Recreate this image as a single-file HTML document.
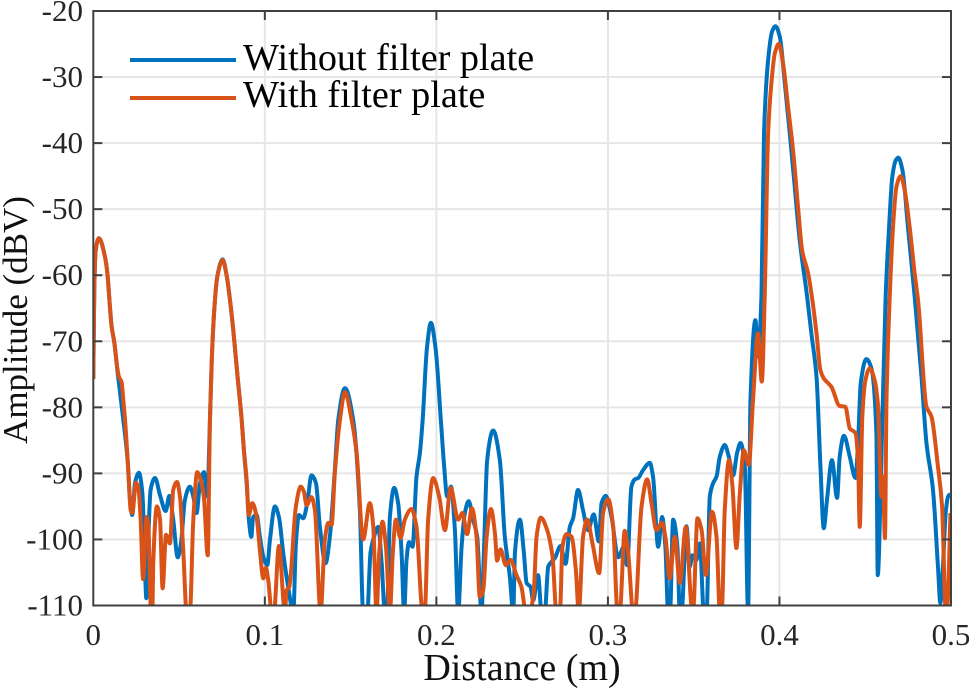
<!DOCTYPE html>
<html lang="en">
<head>
<meta charset="utf-8">
<title>Amplitude vs distance</title>
<style>
html,body{margin:0;padding:0;background:#fff;}
body{width:969px;height:689px;overflow:hidden;}
svg{display:block;font-family:"Liberation Serif","Times New Roman",serif;}
</style>
</head>
<body>
<svg id="chart" xmlns="http://www.w3.org/2000/svg" width="969" height="689" viewBox="0 0 969 689">
  <defs><clipPath id="plot-clip"><rect x="93.3" y="11" width="657.7" height="594.5" transform="translate(0 0)"></rect></clipPath></defs>
  <rect x="0" y="0" width="969" height="689" fill="#fff"></rect>
  <g id="grid"></g>
  <g id="series"></g>
  <rect x="93.3" y="11" width="857.7" height="594.5" fill="none" stroke="#404040" stroke-width="2"></rect>
  <g id="ticks"></g>
  <g id="tick-labels"></g>
  <text x="522" y="680" font-size="38" text-anchor="middle" fill="#111">Distance (m)</text>
  <text transform="translate(27 320) rotate(-90)" font-size="35" text-anchor="middle" fill="#111">Amplitude (dBV)</text>
  <g>
    <line x1="130" y1="60" x2="236" y2="60" stroke="#0072BD" stroke-width="4"></line>
    <text x="243" y="70" font-size="38.2" fill="#000">Without filter plate</text>
    <line x1="130" y1="98" x2="236" y2="98" stroke="#D95319" stroke-width="4"></line>
    <text x="243" y="107" font-size="38.2" fill="#000">With filter plate</text>
  </g>
</svg>
<script>
const xTicks = [0, 0.1, 0.2, 0.3, 0.4, 0.5];
const xTickLabels = ["0", "0.1", "0.2", "0.3", "0.4", "0.5"];
const yTicks = [-20, -30, -40, -50, -60, -70, -80, -90, -100, -110];
const yTickLabels = ["-20", "-30", "-40", "-50", "-60", "-70", "-80", "-90", "-100", "-110"];

const withoutDistance = [
0,.0006,.0014,.0033,.0068,.0082,.0097,.0107,.0122,.0142,.0175,.02,.0214,.0227,.0243,.0266,.0286,.0301,.0309,.0321,.0334,.036,.0389,.0422,.0443,.0466,.0492,.0511,.0534,.0563,.0583,.0602,.0622,.0645,.0664,.068,.069,.0705,.0723,.0754,.0777,.0797,.0816,.0839,.0865,.0878,.0894,.0907,.0921,.0932,.0952,.0971,.0991,.1014,.103,.1059,.1082,.1107,.1136,.1166,.1181,.1199,.1224,.1247,.1272,.1298,.1321,.1354,.1379,.1408,.1428,.1467,.1515,.1554,.1573,.1597,.1616,.1632,.1661,.1681,.17,.1712,.1729,.1754,.1777,.1797,.1812,.1826,.1841,.1861,.1884,.1904,.192,.1945,.1968,.1995,.2026,.2044,.2063,.2085,.2108,.2127,.2147,.2166,.2188,.2214,.2238,.2263,.2277,.2296,.2331,.237,.2399,.2428,.2448,.2458,.2487,.251,.2526,.2549,.2564,.2593,.2613,.2632,.2652,.2671,.2691,.2724,.2753,.2778,.2797,.2826,.2855,.2884,.2917,.2947,.2963,.2988,.3021,.306,.3093,.3112,.3137,.3157,.3176,.3205,.3244,.3263,.3293,.3316,.3335,.3351,.3362,.338,.3405,.3419,.3429,.3458,.3477,.3493,.3516,.3536,.3559,.3575,.3594,.3613,.3633,.3652,.3681,.3705,.373,.3753,.3773,.3798,.3817,.3831,.386,.3875,.3895,.391,.3934,.3957,.3977,.4002,.4031,.406,.4089,.4118,.4161,.4186,.4216,.4239,.4258,.4277,.4306,.4336,.4351,.4376,.441,.4443,.4458,.4474,.4507,.4536,.4565,.4573,.4594,.4619,.4639,.4658,.4678,.4693,.4717,.4749,.4788,.4828,.4857,.4895,.4924,.4938,.4953,.4969,.4983,.4997
];
const withoutDb = [
-75.7,-61.8,-56.2,-54.4,-57.2,-59.7,-64.8,-67.8,-70.1,-74.8,-81.9,-88,-94,-96.3,-91.5,-89.9,-93,-104.1,-108.9,-99.6,-92.5,-90.7,-93.3,-95.7,-93.4,-97,-102.7,-100.6,-94,-92,-93.5,-96,-91.5,-89.8,-93.5,-81.9,-73.3,-65.3,-60.2,-57.6,-60,-63.8,-68.3,-74.8,-81.9,-86.5,-91.5,-97,-99.6,-96.6,-96.3,-99.6,-102.6,-103.9,-100,-95,-96.6,-102,-107.2,-111,-100.6,-96.3,-96.8,-94.5,-90.3,-91.5,-98.1,-103.6,-99.6,-89.5,-81.9,-77.1,-81.9,-95.6,-111,-111,-102,-100,-98.1,-103.6,-111,-111,-96.6,-92.2,-94.5,-102,-111,-103.1,-100.4,-101.1,-90.5,-86.9,-81.9,-71,-67.2,-71,-81.9,-88.5,-93.5,-92,-98.6,-111,-101.1,-96,-94.2,-97,-99.6,-111,-102,-88,-83.5,-88,-99.6,-105.6,-111,-102,-97,-102,-106.6,-107.2,-109.2,-105.4,-111,-111,-104.1,-103.4,-102.8,-101,-103.7,-98.1,-96.8,-92.5,-95.6,-98.6,-96.2,-100.3,-94.5,-93.4,-96.6,-102.7,-101.1,-103.9,-92,-90.9,-90.7,-89.5,-88.4,-90.5,-101.1,-96.6,-101.1,-111,-111,-97,-101.1,-111,-111,-98,-104.1,-102.4,-103.1,-100.6,-111,-111,-93.5,-91.5,-90.5,-87.5,-85.7,-87.5,-90.3,-86.9,-85.4,-89,-111,-78.9,-66.8,-72.3,-63.2,-38.5,-27.4,-23.1,-22.3,-23.9,-30.9,-38.5,-46.6,-54.7,-63.2,-68.8,-75.4,-89,-98.3,-94,-88,-93.7,-87.5,-84.3,-87.5,-90.7,-85.4,-76.3,-72.7,-74.1,-83.9,-105.4,-88,-63.2,-52.7,-45.1,-42.6,-42.2,-44.1,-52.7,-63.2,-75.4,-85.4,-92.5,-104.1,-109.6,-104.1,-96,-93.5,-93.1
];
const withDistance = [
0,.0006,.0014,.0033,.0068,.0082,.0097,.0107,.0122,.0142,.015,.0165,.0175,.0185,.0204,.0218,.0227,.0249,.0264,.0276,.029,.0311,.0321,.0336,.0343,.035,.0371,.0389,.0404,.0424,.0447,.0466,.0488,.0505,.0525,.0544,.0563,.0583,.0606,.0626,.0645,.0667,.068,.069,.0705,.0723,.0754,.0777,.0797,.0816,.0839,.0865,.0878,.0894,.0906,.0927,.0952,.0971,.0991,.1006,.102,.104,.1053,.1082,.1117,.1127,.1142,.1181,.1209,.1228,.1243,.1272,.1292,.1325,.135,.137,.1389,.1408,.1438,.1467,.1506,.1535,.1573,.1612,.1632,.1651,.1667,.1686,.1706,.1729,.1746,.1764,.1791,.1816,.1855,.1884,.192,.1932,.1952,.1981,.2016,.205,.2083,.2127,.2152,.2179,.2207,.2234,.2253,.2273,.2293,.2318,.2341,.2354,.2374,.2405,.2432,.2467,.2496,.2522,.2545,.2568,.2584,.2609,.2642,.2677,.27,.272,.2735,.2759,.2788,.2813,.283,.2855,.2879,.291,.2949,.2972,.3001,.3031,.3056,.3069,.3098,.3118,.3147,.3157,.3196,.3229,.3254,.3283,.3316,.3337,.336,.339,.3419,.3454,.3491,.3497,.3522,.3546,.3571,.3607,.3633,.3652,.3664,.3681,.3706,.3726,.3749,.3769,.3792,.3821,.3846,.3875,.3897,.3914,.3934,.3953,.3973,.3996,.4021,.405,.4079,.4108,.4132,.4167,.4192,.4216,.4239,.4258,.4303,.4351,.4384,.441,.4443,.4458,.4468,.4483,.4501,.4526,.4555,.4575,.4594,.4603,.4615,.4624,.4643,.4662,.4682,.4707,.473,.4759,.4788,.4808,.4857,.4886,.4924,.4948,.4969,.4977,.4997
];
const withDb = [
-75.7,-61.8,-56.2,-54.4,-57.2,-59.7,-64.8,-67.8,-70.1,-74.4,-75.4,-76.2,-78.9,-81.9,-89.5,-95.6,-96,-91.4,-92.5,-97,-106,-96.6,-98.1,-111,-112,-103.1,-95,-97,-107.4,-99.3,-100.6,-92.5,-91.3,-93.5,-102,-111,-111,-97,-89.8,-91,-93.7,-102.4,-81.9,-73.3,-65.3,-60.2,-57.7,-60,-63.8,-68.3,-74.8,-81.9,-86.5,-91,-96.3,-94.5,-96.6,-101.6,-105.9,-104.3,-106.2,-111,-111,-101,-111,-107.7,-107.2,-95,-92,-92.8,-94.8,-93.6,-95.6,-111,-100,-97.5,-97.8,-90,-81.9,-77.7,-81.9,-86.9,-100,-94.5,-98,-111,-102,-97.3,-101.1,-111,-102,-97,-99.8,-97,-95.4,-98.1,-111,-111,-97,-90.7,-93.5,-98.6,-92.2,-97,-96,-99.2,-95.3,-99.6,-108.7,-107.7,-99.6,-95.4,-99,-103.2,-101.5,-103.9,-103.1,-105.4,-107.2,-111,-111,-107.7,-99.6,-96.7,-98.3,-102.6,-111,-111,-101.1,-99.2,-99.6,-104.6,-111,-99.6,-97,-100.6,-105.1,-96,-93.9,-98.1,-111,-111,-98.7,-102,-111,-111,-95,-90.9,-94.5,-98.6,-97.5,-100,-105.9,-99.6,-106.6,-98.1,-110.5,-110.5,-96.8,-98.6,-105.4,-95.8,-99.6,-110.5,-110.5,-95.6,-88,-92,-101.3,-93,-86.5,-88.7,-78.9,-68.8,-76.1,-63.2,-38.5,-30.9,-26.4,-25,-27.9,-34.5,-41,-49.6,-56.2,-59.7,-63.8,-68.8,-74.4,-75.6,-76.9,-79.8,-79.9,-83.2,-83.9,-88,-98.1,-81.4,-75.9,-74.1,-75.9,-79.9,-93.5,-90.5,-99.8,-78.9,-63.2,-52.7,-46.6,-45,-47.1,-52.7,-59.7,-63.8,-79.9,-81.4,-89,-95,-110.5,-110.5,-96
];

const NS = "http://www.w3.org/2000/svg";
const plotLeft = 93.3, plotRight = 951, plotTop = 11, plotBottom = 605.5;
function xScale(v) { return plotLeft + (v - 0) / 0.5 * (plotRight - plotLeft); }
function yScale(v) { return plotTop + (-20 - v) / 90 * (plotBottom - plotTop); }

function make(tag, attrs, parent) {
  const el = document.createElementNS(NS, tag);
  for (const k in attrs) el.setAttribute(k, attrs[k]);
  parent.appendChild(el);
  return el;
}

function monotonePath(xs, ys) {
  const n = xs.length, h = [], s = [], m = [];
  for (let i = 0; i < n - 1; i++) {
    h[i] = xs[i + 1] - xs[i];
    s[i] = (ys[i + 1] - ys[i]) / h[i];
  }
  m[0] = s[0]; m[n - 1] = s[n - 2];
  for (let i = 1; i < n - 1; i++) {
    if (s[i - 1] * s[i] <= 0) m[i] = 0;
    else {
      const w1 = 2 * h[i] + h[i - 1], w2 = h[i] + 2 * h[i - 1];
      m[i] = (w1 + w2) / (w1 / s[i - 1] + w2 / s[i]);
    }
  }
  let d = "M" + xs[0].toFixed(2) + " " + ys[0].toFixed(2);
  for (let i = 0; i < n - 1; i++) {
    const c1x = xs[i] + h[i] / 3, c1y = ys[i] + m[i] * h[i] / 3;
    const c2x = xs[i + 1] - h[i] / 3, c2y = ys[i + 1] - m[i + 1] * h[i] / 3;
    d += "C" + c1x.toFixed(2) + " " + c1y.toFixed(2) + " " + c2x.toFixed(2) + " " + c2y.toFixed(2) + " " + xs[i + 1].toFixed(2) + " " + ys[i + 1].toFixed(2);
  }
  return d;
}

const gridG = document.getElementById("grid");
const ticksG = document.getElementById("ticks");
const labelsG = document.getElementById("tick-labels");
const seriesG = document.getElementById("series");
const clipRect = document.querySelector("#plot-clip rect");
clipRect.setAttribute("width", plotRight - plotLeft);

xTicks.forEach(function (t, i) {
  const x = xScale(t);
  if (i > 0 && i < xTicks.length - 1) {
    const g = make("line", { x1: x, x2: x, y1: plotTop, y2: plotBottom, stroke: "#e6e6e6", "stroke-width": 2 }, gridG);
    
    
    const a = make("line", { x1: x, x2: x, y1: plotBottom, y2: plotBottom - 9, stroke: "#404040", "stroke-width": 2 }, ticksG);
    
    
    const b = make("line", { x1: x, x2: x, y1: plotTop, y2: plotTop + 9, stroke: "#404040", "stroke-width": 2 }, ticksG);
    
    
  }
  const lab = make("text", { x: x, y: 645, "font-size": 31, "text-anchor": "middle", fill: "#262626" }, labelsG);
  
  
  lab.textContent = xTickLabels[i];
});

yTicks.forEach(function (t, i) {
  const y = yScale(t);
  if (i > 0 && i < yTicks.length - 1) {
    const g = make("line", { x1: plotLeft, x2: plotRight, y1: y, y2: y, stroke: "#e6e6e6", "stroke-width": 2 }, gridG);
    
    
    const a = make("line", { x1: plotLeft, x2: plotLeft + 9, y1: y, y2: y, stroke: "#404040", "stroke-width": 2 }, ticksG);
    
    
    const b = make("line", { x1: plotRight, x2: plotRight - 9, y1: y, y2: y, stroke: "#404040", "stroke-width": 2 }, ticksG);
    
    
  }
  const lab = make("text", { x: 83, y: y + 10, "font-size": 31, "text-anchor": "end", fill: "#262626" }, labelsG);
  
  
  lab.textContent = yTickLabels[i];
});

const withoutPath = make("path", {
  d: monotonePath(withoutDistance.map(xScale), withoutDb.map(yScale)),
  fill: "none", stroke: "#0072BD", "stroke-width": 4, "stroke-linejoin": "round", "clip-path": "url(#plot-clip)"
}, seriesG);



const withPath = make("path", {
  d: monotonePath(withDistance.map(xScale), withDb.map(yScale)),
  fill: "none", stroke: "#D95319", "stroke-width": 4, "stroke-linejoin": "round", "clip-path": "url(#plot-clip)"
}, seriesG);


</script>
</body>
</html>
